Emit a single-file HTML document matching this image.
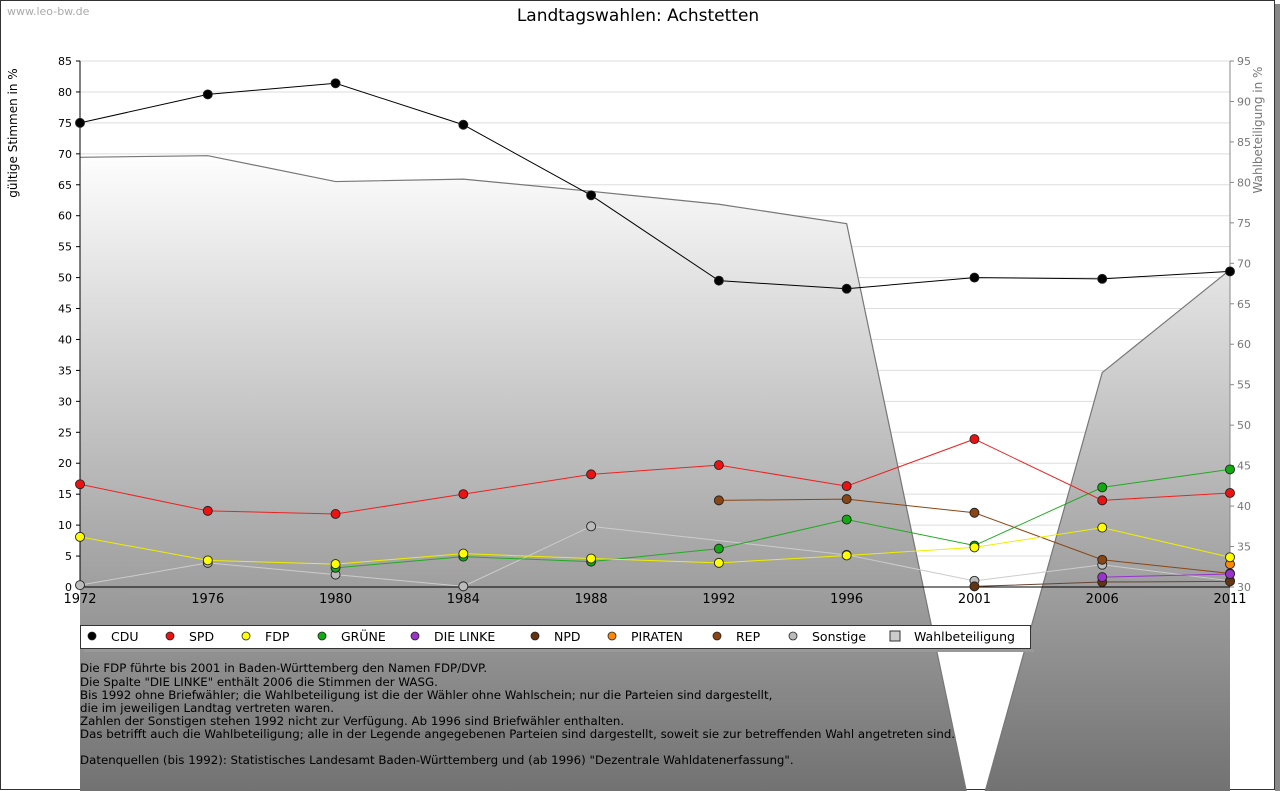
<!DOCTYPE html>
<html><head><meta charset="utf-8"><style>
body{margin:0;width:1280px;height:791px;overflow:hidden;background:#fff;font-family:"DejaVu Sans","Liberation Sans",sans-serif}
svg{display:block}
</style></head><body>
<svg id="chart" width="1280" height="791" font-family="DejaVu Sans, Liberation Sans, sans-serif">
<defs>
<linearGradient id="fillg" gradientUnits="userSpaceOnUse" x1="0" y1="150" x2="0" y2="791">
<stop offset="0" stop-color="#ffffff"/><stop offset="1" stop-color="#727272"/>
</linearGradient>
</defs>
<rect x="0.5" y="0.5" width="1274" height="789" fill="#fff" stroke="#333"/>
<rect x="1275" y="4" width="5" height="787" fill="#888"/>
<text x="7" y="15" font-size="11" fill="#aaa">www.leo-bw.de</text>
<text x="638" y="21" font-size="17" text-anchor="middle" fill="#000">Landtagswahlen: Achstetten</text>
<g id="grid"></g>
<g id="area"></g>
<g id="axes"></g>
<g id="series"></g>
<text transform="translate(17,133) rotate(-90)" font-size="12" text-anchor="middle">gültige Stimmen in %</text>
<text transform="translate(1262,130) rotate(-90)" font-size="12" text-anchor="middle" fill="#777">Wahlbeteiligung in %</text>
<g>
<rect x="80.5" y="625.5" width="950" height="23" fill="#fff" stroke="#333"/>
<rect x="84" y="649" width="950" height="3" fill="#999"/>
<g id="legend"></g>
</g>
<g font-size="11.8" fill="#000">
<text x="80" y="672">Die FDP führte bis 2001 in Baden-Württemberg den Namen FDP/DVP.</text>
<text x="80" y="686">Die Spalte "DIE LINKE" enthält 2006 die Stimmen der WASG.</text>
<text x="80" y="699">Bis 1992 ohne Briefwähler; die Wahlbeteiligung ist die der Wähler ohne Wahlschein; nur die Parteien sind dargestellt,</text>
<text x="80" y="712">die im jeweiligen Landtag vertreten waren.</text>
<text x="80" y="725">Zahlen der Sonstigen stehen 1992 nicht zur Verfügung. Ab 1996 sind Briefwähler enthalten.</text>
<text x="80" y="738">Das betrifft auch die Wahlbeteiligung; alle in der Legende angegebenen Parteien sind dargestellt, soweit sie zur betreffenden Wahl angetreten sind.</text>
<text x="80" y="764">Datenquellen (bis 1992): Statistisches Landesamt Baden-Württemberg und (ab 1996) "Dezentrale Wahldatenerfassung".</text>
</g>
</svg>
<script>
const years=["1972","1976","1980","1984","1988","1992","1996","2001","2006","2011"];
const turnout=[83.1,83.3,80.1,80.4,78.9,77.3,74.9,0,56.5,69.2];
const cdu=[75,79.6,81.4,74.7,63.3,49.5,48.2,50,49.8,51];
const spd=[16.6,12.3,11.8,15,18.2,19.7,16.3,23.9,14,15.2];
const fdp=[8.1,4.3,3.7,5.4,4.6,3.9,5.1,6.4,9.6,4.8];
const gruene=[null,null,3.1,4.9,4.1,6.2,10.9,6.7,16.1,19];
const linke=[null,null,null,null,null,null,null,null,1.6,2.1];
const npd=[null,null,null,null,null,null,null,0.1,0.8,0.9];
const piraten=[null,null,null,null,null,null,null,null,null,3.7];
const rep=[null,null,null,null,null,14,14.2,12,4.4,2.2];
const sonstige=[0.3,3.9,2.0,0.1,9.8,null,5.2,1.0,3.6,1.0];
const leftTicks=[0,5,10,15,20,25,30,35,40,45,50,55,60,65,70,75,80,85];
const rightTicks=[30,35,40,45,50,55,60,65,70,75,80,85,90,95];
const NS="http://www.w3.org/2000/svg";
const X0=80,X1=1230,YB=587,YT=61;
const xs=i=>X0+(X1-X0)*i/(years.length-1);
const yl=v=>YB-(YB-YT)*v/85;
const yr=v=>YB-(YB-YT)*(v-30)/65;
function mk(tag,attrs,parent){const e=document.createElementNS(NS,tag);for(const k in attrs)e.setAttribute(k,attrs[k]);parent.appendChild(e);return e;}
const grid=document.getElementById('grid'),axes=document.getElementById('axes'),area=document.getElementById('area'),ser=document.getElementById('series'),leg=document.getElementById('legend');
leftTicks.forEach(t=>{
 if(t>0){const l=mk('line',{x1:X0,x2:X1,y1:yl(t),y2:yl(t),stroke:'#ddd'},grid);
 
 }
 mk('line',{x1:X0-4,x2:X0,y1:yl(t),y2:yl(t),stroke:'#000'},axes);
 const tx=mk('text',{x:X0-8,y:yl(t)+4,'font-size':11,'text-anchor':'end'},axes);tx.textContent=t;
 
 
});
rightTicks.forEach(t=>{
 mk('line',{x1:X1,x2:X1+4,y1:yr(t),y2:yr(t),stroke:'#888'},axes);
 const tx=mk('text',{x:X1+7,y:yr(t)+4,'font-size':11,fill:'#777'},axes);tx.textContent=t;
 
 
});
let d='M'+X0+',791';
turnout.forEach((v,i)=>{d+=' L'+xs(i)+','+yr(v);});
d+=' L'+X1+',791 Z';
const ar=mk('path',{d:d,fill:'url(#fillg)',stroke:'none'},area);


let dl='';turnout.forEach((v,i)=>{dl+=(i?' L':'M')+xs(i)+','+yr(v);});
mk('path',{d:dl,fill:'none',stroke:'#777','stroke-width':1.2},area);
mk('line',{x1:X0,x2:X0,y1:YT,y2:YB,stroke:'#000'},axes);
mk('line',{x1:X1,x2:X1,y1:YT,y2:YB,stroke:'#888'},axes);
mk('line',{x1:X0,x2:X1,y1:YB,y2:YB,stroke:'#000'},axes);
years.forEach((y,i)=>{
 const tx=mk('text',{x:xs(i),y:603,'font-size':13,'text-anchor':'middle'},axes);tx.textContent=y;
 
 
});
const series=[
 ['CDU',cdu,'#000','#000'],['SPD',spd,'#ee1111','#ee2222'],['FDP',fdp,'#ffff00','#eeee00'],['GRÜNE',gruene,'#11aa11','#22aa22'],
 ['DIE LINKE',linke,'#9933cc','#9933cc'],['NPD',npd,'#663311','#664433'],['PIRATEN',piraten,'#ff8800','#ff8800'],['REP',rep,'#8b4513','#8b4513'],['Sonstige',sonstige,'#bbbbbb','#cccccc']];
const order=[8,7,6,5,4,3,2,1,0];
order.forEach(si=>{
 const [name,vals,col,lc]=series[si];
 const g=mk('g',{},ser);
 
 
 let p='';vals.forEach((v,i)=>{if(v!==null)p+=(p?' L':'M')+xs(i)+','+yl(v);});
 mk('path',{d:p,fill:'none',stroke:lc,'stroke-width':1},g);
 vals.forEach((v,i)=>{if(v===null)return;const cx=xs(i),cy=yl(v);
  const m=mk('circle',{cx:cx,cy:cy,r:4.5,fill:col,stroke:'#222','stroke-width':0.9},g);
  
  
 });
});
const legX=[92,170,246,322,415,535,612,717,793,895];
const legNames=['CDU','SPD','FDP','GRÜNE','DIE LINKE','NPD','PIRATEN','REP','Sonstige','Wahlbeteiligung'];
const legCols=['#000','#ee1111','#ffff00','#11aa11','#9933cc','#663311','#ff8800','#8b4513','#bbbbbb'];
legNames.forEach((n,i)=>{
 const g=mk('g',{},leg);
 
 
 const x=legX[i],y=636;
 if(i<9)mk('circle',{cx:x,cy:y,r:4,fill:legCols[i],stroke:'#222','stroke-width':0.8},g);
 else mk('rect',{x:x-5,y:y-5,width:10,height:10,fill:'#ccc',stroke:'#333'},g);
 const t=mk('text',{x:x+19,y:y+5,'font-size':12.5},g);t.textContent=n;
});
</script>
</body></html>
